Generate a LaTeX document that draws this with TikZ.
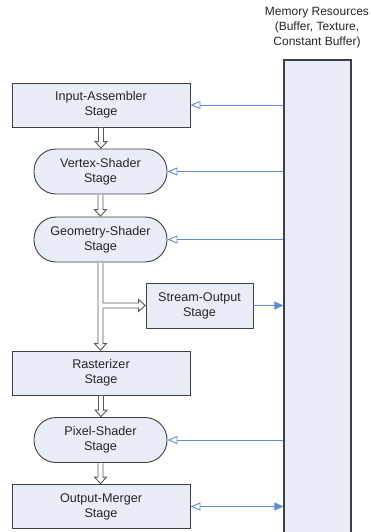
\documentclass[tikz,border=0pt]{standalone}
\usepackage{fontspec}
\setmainfont{Liberation Sans}
\usetikzlibrary{arrows.meta,calc}
\definecolor{boxfill}{RGB}{233,237,247}
\definecolor{boxline}{RGB}{64,64,64}
\definecolor{memline}{RGB}{91,141,212}
\definecolor{blk}{RGB}{90,90,90}
\tikzset{
  stage/.style={draw=boxline, fill=boxfill, line width=0.9pt, align=center, inner sep=0pt,
    font=\fontsize{12.6}{15}\selectfont, text=black!85},
  widebox/.style={stage, rectangle, minimum width=178pt, minimum height=44pt},
  shaderbox/.style={stage, rectangle, rounded corners=22pt, minimum width=133pt, minimum height=45pt},
  sobox/.style={stage, rectangle, minimum width=107pt, minimum height=45pt},
  membox/.style={draw=boxline, fill=boxfill, line width=1.2pt, minimum width=67pt, minimum height=480pt, inner sep=0pt},
  memtitle/.style={align=center, font=\fontsize{12}{15}\selectfont, text=black!85, inner sep=0pt},
  memlink/.style={draw=memline, line width=0.9pt},
  readtip/.style={-{Triangle[open, length=10pt, width=8pt]}},
  writetip/.style={-{Triangle[length=9pt, width=8pt]}},
  blockarrow/.style={fill=white, draw=blk, line width=0.9pt, line join=miter},
}
\newcommand\blockdown[2]{%
  \filldraw[blockarrow] let \p1=(#1.south), \p2=(#2.north) in
    (\x1-2.5pt,\y1-0.5pt) -- (\x1-2.5pt,\y2+7pt) -- (\x1-6pt,\y2+7pt) -- (\x1,\y2+0.4pt)
    -- (\x1+6pt,\y2+7pt) -- (\x1+2.5pt,\y2+7pt) -- (\x1+2.5pt,\y1-0.5pt);}
\newcommand\blockbranch[2]{%
  \fill[white] let \p1=(#1.south), \p2=(#2.west) in
    (\x1,\y2+2.5pt) -- (\x2-7pt,\y2+2.5pt) -- (\x2-7pt,\y2+6pt) -- (\x2-0.4pt,\y2)
    -- (\x2-7pt,\y2-6pt) -- (\x2-7pt,\y2-2.5pt) -- (\x1,\y2-2.5pt) -- cycle;
  \draw[blockarrow, fill=none] let \p1=(#1.south), \p2=(#2.west) in
    (\x1+2.5pt,\y2+2.5pt) -- (\x2-7pt,\y2+2.5pt) -- (\x2-7pt,\y2+6pt) -- (\x2-0.4pt,\y2)
    -- (\x2-7pt,\y2-6pt) -- (\x2-7pt,\y2-2.5pt) -- (\x1+2.5pt,\y2-2.5pt);}
\begin{document}
\begin{tikzpicture}[x=1pt, y=-1pt]
  \path[use as bounding box, clip] (0,0) rectangle (371,532);

  \node[memtitle] (memt) at (317,28) {Memory Resources\\(Buffer, Texture,\\Constant Buffer)};
  \node[membox] (mem) at (317.5,300) {};

  \node[widebox]   (ia) at (101,105)   {Input-Assembler\\Stage};
  \node[shaderbox] (vs) at (100.5,171.5) {Vertex-Shader\\Stage};
  \node[shaderbox] (gs) at (100.5,239.5) {Geometry-Shader\\Stage};
  \node[sobox]     (so) at (199.5,305.5) {Stream-Output\\Stage};
  \node[widebox]   (ra) at (101,373)   {Rasterizer\\Stage};
  \node[shaderbox] (ps) at (100.5,440) {Pixel-Shader\\Stage};
  \node[widebox]   (om) at (101,506.5) {Output-Merger\\Stage};

  \blockdown{ia}{vs}
  \blockdown{vs}{gs}
  \blockdown{gs}{ra}
  \blockbranch{gs}{so}
  \blockdown{ra}{ps}
  \blockdown{ps}{om}

  \draw[memlink, readtip] (mem.west |- ia.east) -- (ia.east);
  \draw[memlink, readtip] (mem.west |- vs.east) -- (vs.east);
  \draw[memlink, readtip] (mem.west |- gs.east) -- (gs.east);
  \draw[memlink, writetip] (so.east) -- (mem.west |- so.east);
  \draw[memlink, readtip] (mem.west |- ps.east) -- (ps.east);
  \draw[memlink, {Triangle[open, length=10pt, width=8pt]}-{Triangle[length=9pt, width=8pt]}] (om.east) -- (mem.west |- om.east);
\end{tikzpicture}
\end{document}
